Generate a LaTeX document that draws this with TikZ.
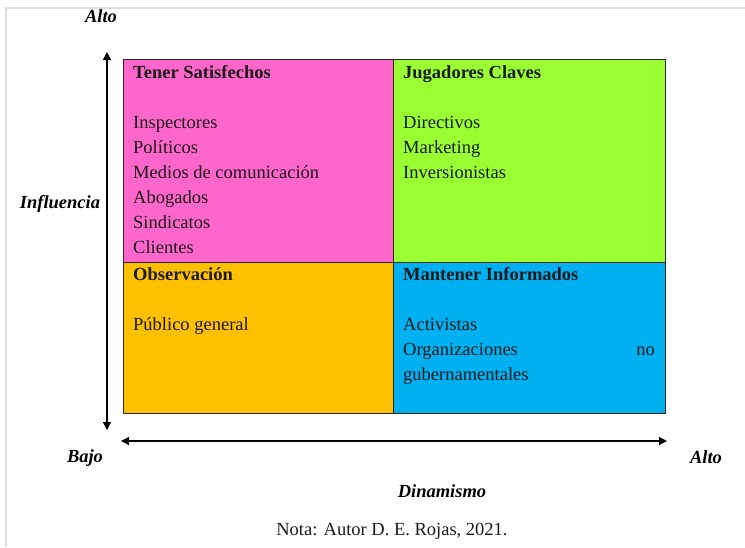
\documentclass[tikz,border=0pt]{standalone}
\usepackage{fontspec}
\setmainfont{Liberation Serif}
\usetikzlibrary{arrows.meta}
\definecolor{qpink}{HTML}{FF66CC}
\definecolor{qgreen}{HTML}{99FF33}
\definecolor{qorange}{HTML}{FFC000}
\definecolor{qblue}{HTML}{00B0F0}
\definecolor{frame}{HTML}{DDDDDD}
\definecolor{ink}{HTML}{1A1A1A}
\newcommand\fsz{\fontsize{18.5}{25}\selectfont}
\tikzset{
  quad/.style={draw=black!85, line width=1pt, inner sep=0pt, anchor=north west},
  ttl/.style={font=\fsz\bfseries, text=ink, anchor=base west, inner sep=0pt},
  item/.style={font=\fsz, text=ink, anchor=base west, inner sep=0pt},
  axlab/.style={font=\fsz\bfseries\itshape, anchor=base, inner sep=0pt},
  note/.style={font=\fsz, text=ink, anchor=base, inner sep=0pt},
  axis/.style={line width=1.2pt, {Triangle[width=8pt,length=8pt]}-{Triangle[width=8pt,length=8pt]}},
  framel/.style={draw=frame, line width=2pt}
}
\begin{document}
\begin{tikzpicture}[x=1pt,y=-1pt]
\useasboundingbox (0,0) rectangle (745,547);
% light frame of the figure
\coordinate (f1) at (6,547);
\coordinate (f2) at (6,8);
\coordinate (f3) at (745,8);
\draw[framel] (f1) -- (f2) -- (f3);
% quadrants
\node[quad, fill=qpink, minimum width=270pt, minimum height=203pt] (q1) at (123,59) {};
\node[quad, fill=qgreen, minimum width=272pt, minimum height=203pt] (q2) at (393,59) {};
\node[quad, fill=qorange, minimum width=270pt, minimum height=151pt] (q3) at (123,262) {};
\node[quad, fill=qblue, minimum width=272pt, minimum height=151pt] (q4) at (393,262) {};
% Tener Satisfechos
\node[ttl] (t1) at (133,78) {Tener Satisfechos};
\node[item] (a1) at (133,128) {Inspectores};
\node[item] (a2) at (133,153) {Políticos};
\node[item] (a3) at (133,178) {Medios de comunicación};
\node[item] (a4) at (133,203) {Abogados};
\node[item] (a5) at (133,228) {Sindicatos};
\node[item] (a6) at (133,253) {Clientes};
% Jugadores Claves
\node[ttl] (t2) at (403,78) {Jugadores Claves};
\node[item] (b1) at (403,128) {Directivos};
\node[item] (b2) at (403,153) {Marketing};
\node[item] (b3) at (403,178) {Inversionistas};
% Observacion
\node[ttl] (t3) at (133,280) {Observación};
\node[item] (c1) at (133,330) {Público general};
% Mantener Informados
\node[ttl] (t4) at (403,280) {Mantener Informados};
\node[item] (d1) at (403,330) {Activistas};
\node[item] (d2) at (403,355) {Organizaciones};
\node[item, anchor=base east] (d3) at (655,355) {no};
\node[item] (d4) at (403,380) {gubernamentales};
% axes
\coordinate (vtop) at (107,52);
\coordinate (vbot) at (107,430);
\coordinate (hleft) at (121,441);
\coordinate (hright) at (667,441);
\draw[axis] (vtop) -- (vbot);
\draw[axis] (hleft) -- (hright);
% axis labels
\node[axlab] (l1) at (101,22) {Alto};
\node[axlab] (l2) at (60,208) {Influencia};
\node[axlab] (l3) at (85,462) {Bajo};
\node[axlab] (l4) at (706,463) {Alto};
\node[axlab] (l5) at (442,497) {Dinamismo};
\node[note] (n1) at (392,535) {Nota: Autor D. E. Rojas, 2021.};
\end{tikzpicture}
\end{document}
